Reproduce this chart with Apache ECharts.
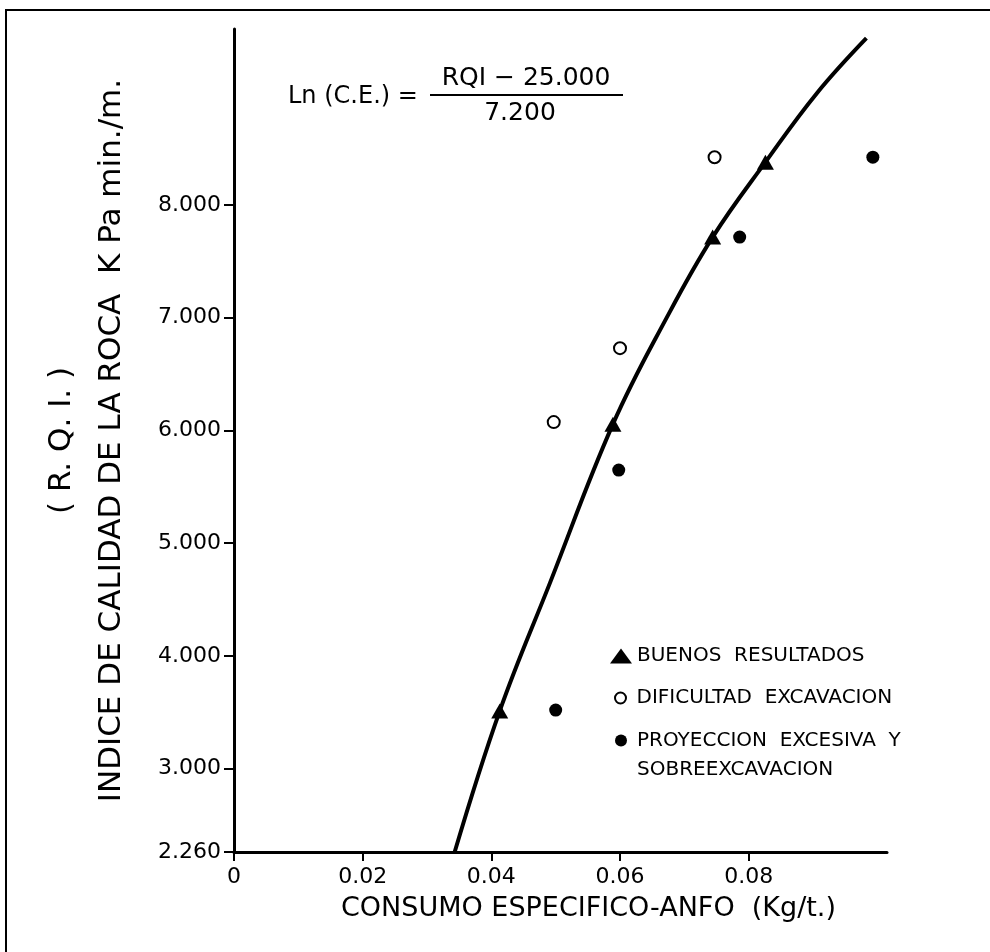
<!DOCTYPE html>
<html>
<head>
<meta charset="utf-8">
<title>Indice de calidad de la roca vs consumo especifico</title>
<script src="https://cdn.jsdelivr.net/npm/echarts@6/dist/echarts.min.js"></script>
<style>
  html, body { margin: 0; padding: 0; background: #fff; }
  #chart { width: 990px; height: 952px; }
</style>
</head>
<body>
<div id="chart"></div>
<script>
// ticks de los ejes
const xTicks = [0, 0.02, 0.04, 0.06, 0.08]
const yTicks = [2260, 3000, 4000, 5000, 6000, 7000, 8000]

// curva de ajuste
const curveX = [0.0343, 0.0413, 0.0491, 0.0589, 0.0673, 0.0744, 0.0826, 0.0906, 0.0983]
const curveY = [2260, 3510, 4645, 6055, 7004, 7714, 8379, 8991, 9479]

// BUENOS RESULTADOS (triangulos)
const buenosX = [0.0413, 0.0589, 0.0744, 0.0826]
const buenosY = [3510, 6055, 7714, 8379]

// DIFICULTAD EXCAVACION (circulo abierto)
const dificultadX = [0.0497, 0.0600, 0.0747]
const dificultadY = [6073, 6729, 8423]

// PROYECCION EXCESIVA Y SOBREEXCAVACION (circulo lleno)
const proyeccionX = [0.0500, 0.0598, 0.0786, 0.0993]
const proyeccionY = [3519, 5648, 7714, 8423]

const nBuenos = 'BUENOS  RESULTADOS'
const nDificultad = 'DIFICULTAD  EXCAVACION'
const nProyeccion = 'PROYECCION  EXCESIVA  Y\nSOBREEXCAVACION'

const FONT = '"DejaVu Sans", sans-serif'
const zip = (xs, ys) => xs.map((x, i) => [x, ys[i]])

const myChart = echarts.init(document.getElementById('chart'))

const legendText = { color: '#000', fontFamily: FONT, fontSize: 20 }
// una leyenda por item, para controlar el tamaño de cada icono
const legendBase = { orient: 'vertical', itemWidth: 22, textStyle: legendText }

const option = {
  animation: false,
  backgroundColor: '#fff',
  grid: {
    left: 234,
    right: 103,
    top: 29,
    bottom: 100,
    containLabel: false,
    outerBoundsMode: 'none'
  },
  legend: [
    Object.assign({}, legendBase, {
      left: 605, top: 641, itemHeight: 15,
      data: [{ name: nBuenos, icon: 'triangle' }]
    }),
    Object.assign({}, legendBase, {
      left: 609, top: 683, itemHeight: 11,
      data: [{ name: nDificultad, icon: 'emptyCircle' }]
    }),
    Object.assign({}, legendBase, {
      left: 610, top: 692, itemHeight: 12,
      // linea vacia arriba para que el icono quede a la altura de la primera linea
      formatter: name => '\n' + name,
      textStyle: Object.assign({}, legendText, { lineHeight: 29 }),
      data: [{ name: nProyeccion, icon: 'circle' }]
    })
  ],
  xAxis: {
    type: 'value',
    min: 0,
    max: 0.1015,
    name: 'CONSUMO ESPECIFICO-ANFO  (Kg/t.)',
    nameLocation: 'middle',
    nameGap: 43,
    nameMoveOverlap: false,
    nameTextStyle: { color: '#000', fontFamily: FONT, fontSize: 27, padding: [0, 0, 0, 56] },
    axisLine: { lineStyle: { color: '#000', width: 3 } },
    axisTick: { show: true, inside: false, length: 9, lineStyle: { color: '#000', width: 2 }, customValues: xTicks },
    axisLabel: {
      color: '#000', fontFamily: FONT, fontSize: 22, margin: 14,
      customValues: xTicks,
      formatter(v) { return v === 0 ? '0' : v.toFixed(2) }
    },
    splitLine: { show: false }
  },
  yAxis: {
    type: 'value',
    min: 2260,
    max: 9560,
    name: '( R. Q. I. )\nINDICE DE CALIDAD DE LA ROCA  K Pa min./m.',
    nameLocation: 'middle',
    nameRotate: 90,
    nameGap: 97,
    nameMoveOverlap: false,
    nameTextStyle: { color: '#000', fontFamily: FONT, fontSize: 31, lineHeight: 50 },
    axisLine: { lineStyle: { color: '#000', width: 3 } },
    axisTick: { show: true, inside: false, length: 10, lineStyle: { color: '#000', width: 2 }, customValues: yTicks },
    axisLabel: {
      color: '#000', fontFamily: FONT, fontSize: 22, margin: 13,
      customValues: yTicks,
      formatter(v) {
        const s = String(Math.round(v))
        return s.slice(0, s.length - 3) + '.' + s.slice(-3)
      }
    },
    splitLine: { show: false }
  },
  graphic: [
    // marco de la figura
    {
      type: 'rect', silent: true, z: 0,
      shape: { x: 6, y: 10, width: 1000, height: 1000 },
      style: { fill: 'none', stroke: '#000', lineWidth: 2 }
    },
    // formula
    {
      type: 'text', x: 288, y: 97,
      style: { text: 'Ln (C.E.) =', fill: '#000', font: '24px ' + FONT, align: 'left', verticalAlign: 'middle' }
    },
    {
      type: 'text', x: 526, y: 78,
      style: { text: 'RQI \u2212 25.000', fill: '#000', font: '25px ' + FONT, align: 'center', verticalAlign: 'middle' }
    },
    {
      type: 'line',
      shape: { x1: 430, y1: 95, x2: 623, y2: 95 },
      style: { stroke: '#000', lineWidth: 2 }
    },
    {
      type: 'text', x: 520, y: 113,
      style: { text: '7.200', fill: '#000', font: '25px ' + FONT, align: 'center', verticalAlign: 'middle' }
    }
  ],
  series: [
    {
      name: 'curva',
      type: 'line',
      data: zip(curveX, curveY),
      smooth: 0.4,
      showSymbol: false,
      lineStyle: { color: '#000', width: 4 },
      z: 2
    },
    {
      name: nBuenos,
      type: 'scatter',
      symbol: 'triangle',
      symbolSize: [17, 15],
      itemStyle: { color: '#000', opacity: 1 },
      data: zip(buenosX, buenosY),
      z: 3
    },
    {
      name: nDificultad,
      type: 'scatter',
      symbol: 'emptyCircle',
      symbolSize: 12,
      itemStyle: { color: '#000', borderWidth: 2, opacity: 1 },
      data: zip(dificultadX, dificultadY),
      z: 3
    },
    {
      name: nProyeccion,
      type: 'scatter',
      symbol: 'circle',
      symbolSize: 13,
      itemStyle: { color: '#000', opacity: 1 },
      data: zip(proyeccionX, proyeccionY),
      z: 3
    }
  ]
}

myChart.setOption(option)
</script>
</body>
</html>
